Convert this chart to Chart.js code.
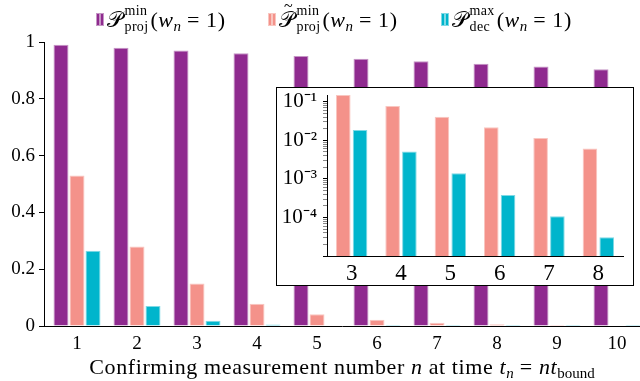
<!DOCTYPE html>
<html><head><meta charset="utf-8">
<script src="https://cdn.jsdelivr.net/npm/chart.js@4.4.0/dist/chart.umd.min.js"></script>
<style>
html,body{margin:0;padding:0;background:#fff;}
#wrap{position:relative;width:640px;height:381px;overflow:hidden;font-family:'Liberation Serif',serif;color:#000;}
#main{position:absolute;left:0;top:0;}
#insetBox{position:absolute;left:276px;top:87px;width:356px;height:197px;border:1px solid #000;background:#fff;}
#inset{position:absolute;left:0;top:0;}
#legend{position:absolute;left:0;top:0;width:640px;height:38px;}
.item{position:absolute;top:0;height:38px;white-space:nowrap;}
.icon{position:absolute;top:13px;width:7px;height:12px;}
.icon span{position:absolute;top:0;width:2px;height:11px;border:0.5px solid;}
.txt{position:absolute;top:3px;font-size:22px;line-height:22px;letter-spacing:0.6px;}
.ss{display:inline-block;vertical-align:-4px;line-height:16px;font-size:14px;margin-left:1px;margin-right:2px;letter-spacing:0.3px;}
.ss span{display:block;}
.tl{position:relative;}
.tilde{position:absolute;left:5px;top:-12px;font-size:16px;}
.eq{padding:0 6px;}
#xtitle{position:absolute;left:44px;width:596px;top:356px;text-align:center;font-size:22px;line-height:22px;white-space:nowrap;letter-spacing:0.6px;}
sub{font-size:15px;vertical-align:-4px;line-height:0;letter-spacing:0;}
</style>
</head><body>
<div id="wrap">
<canvas id="main" width="640" height="381"></canvas>
<div id="insetBox"><canvas id="inset" width="356" height="197"></canvas></div>
<div id="legend"></div>
<div id="xtitle">Confirming measurement number <i>n</i> at time <i>t</i><sub><i>n</i></sub> = <i>nt</i><sub>bound</sub></div>
</div>
<script>
// ---- data ----
const categories = [1, 2, 3, 4, 5, 6, 7, 8, 9, 10];
const insetCategories = [3, 4, 5, 6, 7, 8];
const projMin      = [0.99, 0.98, 0.97, 0.96, 0.951, 0.941, 0.932, 0.923, 0.914, 0.904];
const projMinTilde = [0.53, 0.28, 0.15, 0.078, 0.041, 0.0219, 0.0115, 0.0061, 0.0032, 0.0017];
const decMax       = [0.265, 0.07, 0.0185, 0.0051, 0.0014, 0.00038, 0.000107, 0.0000305, 0.0000085, 0.0000024];
const yTicks = [0, 0.2, 0.4, 0.6, 0.8, 1];
const yTickLabels = ['0', '0.2', '0.4', '0.6', '0.8', '1'];
const insetExponents = [-5, -4, -3, -2, -1];
const insetLabelledExponents = [-4, -3, -2, -1];
const seriesNames = ['𝒫_proj^min(w_n = 1)', '𝒫̃_proj^min(w_n = 1)', '𝒫_dec^max(w_n = 1)'];
const seriesSup = ['min', 'min', 'max'];
const seriesSub = ['proj', 'proj', 'dec'];
const seriesTilde = [false, true, false];

// ---- styles ----
const colors = ['#8f2a8f', '#f4928a', '#00b5cc'];
const borderColors = ['#c596c5', '#f9c6c0', '#7fd9e5'];
const FONT = "'Liberation Serif', serif";

const allSeries = [projMin, projMinTilde, decMax];

// main chart
const mainDatasets = allSeries.map((vals, i) => ({
  label: seriesNames[i],
  data: categories.map((c, j) => ({x: c, y: vals[j]})),
  backgroundColor: colors[i],
  borderColor: borderColors[i],
  borderWidth: 1,
  categoryPercentage: 0.8,
  barPercentage: 0.9375
}));

const htmlLegend = {
  id: 'htmlLegend',
  afterUpdate(chart) {
    const box = document.getElementById('legend');
    box.innerHTML = '';
    const lefts = [96, 268, 441];
    chart.data.datasets.forEach((ds, i) => {
      const item = document.createElement('div');
      item.className = 'item';
      item.style.left = lefts[i] + 'px';
      const icon = document.createElement('div');
      icon.className = 'icon';
      [0, 4].forEach(x => {
        const b = document.createElement('span');
        b.style.left = x + 'px';
        b.style.background = ds.backgroundColor;
        b.style.borderColor = ds.borderColor;
        icon.appendChild(b);
      });
      item.appendChild(icon);
      const t = document.createElement('div');
      t.className = 'txt';
      t.style.left = '11px';
      const P = seriesTilde[i] ? '<span class="tl">𝒫<span class="tilde">~</span></span>' : '𝒫';
      t.innerHTML = P + '<span class="ss"><span>' + seriesSup[i] + '</span><span>' + seriesSub[i] +
        '</span></span>(<i>w</i><sub><i>n</i></sub><span class="eq">=</span>1)';
      item.appendChild(t);
      box.appendChild(item);
    });
  }
};

new Chart(document.getElementById('main'), {
  type: 'bar',
  data: {datasets: mainDatasets},
  plugins: [htmlLegend],
  options: {
    responsive: false, animation: false, devicePixelRatio: 1,
    layout: {padding: {top: 42, right: 0, left: 0, bottom: 0}},
    plugins: {legend: {display: false}, tooltip: {enabled: false}},
    scales: {
      x: {
        type: 'linear', min: 0.45, max: 10.383, offset: false,
        afterBuildTicks: s => { s.ticks = categories.map(v => ({value: v})); },
        afterFit: s => { s.height = 55; s.paddingLeft = 0; s.paddingRight = 0; },
        grid: {drawOnChartArea: false, drawTicks: false},
        border: {color: '#000', width: 1},
        ticks: {font: {family: FONT, size: 19}, color: '#000', padding: 7, autoSkip: false, maxRotation: 0}
      },
      y: {
        min: 0, max: 1,
        afterBuildTicks: s => { s.ticks = yTicks.map(v => ({value: v})); },
        afterFit: s => { s.width = 44; s.paddingTop = 0; s.paddingBottom = 0; },
        grid: {drawOnChartArea: false, drawTicks: true, tickLength: 5, tickColor: '#000'},
        border: {color: '#000', width: 1},
        ticks: {callback: (v, i) => yTickLabels[i], font: {family: FONT, size: 19}, color: '#000', padding: 4}
      }
    }
  }
});

// inset chart
const supMap = {'-': '⁻', '0': '⁰', '1': '¹', '2': '²', '3': '³', '4': '⁴', '5': '⁵'};
const toSup = s => String(s).split('').map(ch => supMap[ch]).join('');
const insetTicks = [];
insetExponents.forEach(e => { for (let m = 1; m <= 9; m++) { const v = m * Math.pow(10, e); if (v <= 0.15 + 1e-12) insetTicks.push({value: v, major: m === 1}); } });

const insetDatasets = [1, 2].map(i => ({
  label: seriesNames[i],
  data: insetCategories.map(c => allSeries[i][categories.indexOf(c)]),
  backgroundColor: colors[i],
  borderColor: borderColors[i],
  borderWidth: 1,
  categoryPercentage: 0.68,
  barPercentage: 0.87
}));

new Chart(document.getElementById('inset'), {
  type: 'bar',
  data: {labels: insetCategories.map(String), datasets: insetDatasets},
  options: {
    responsive: false, animation: false, devicePixelRatio: 1,
    layout: {padding: {top: 7, right: 10, left: 0, bottom: 0}},
    plugins: {legend: {display: false}, tooltip: {enabled: false}},
    scales: {
      x: {
        offset: true,
        afterFit: s => { s.height = 29; s.paddingLeft = 0; s.paddingRight = 0; },
        grid: {display: true, drawOnChartArea: false, drawTicks: false, offset: true},
        border: {color: '#000', width: 1},
        ticks: {font: {family: FONT, size: 23}, color: '#000', padding: 4, autoSkip: false, maxRotation: 0}
      },
      y: {
        type: 'logarithmic', min: 0.00001, max: 0.15,
        afterBuildTicks: s => { s.ticks = insetTicks.map(t => ({value: t.value, major: t.major})); },
        afterFit: s => { s.width = 50; s.paddingTop = 0; s.paddingBottom = 0; },
        grid: {drawOnChartArea: false, drawTicks: true, tickLength: 4,
               tickColor: c => (c.tick && c.tick.major) ? '#000' : '#888', tickWidth: 1},
        border: {color: '#000', width: 1},
        ticks: {
          autoSkip: false, padding: 6, color: '#000', font: {family: FONT, size: 21},
          callback: (v) => {
            const e = Math.round(Math.log10(v));
            if (Math.abs(v - Math.pow(10, e)) / v < 1e-6 && insetLabelledExponents.includes(e)) return '10' + toSup(e);
            return '';
          }
        }
      }
    }
  }
});
</script>
</body></html>
